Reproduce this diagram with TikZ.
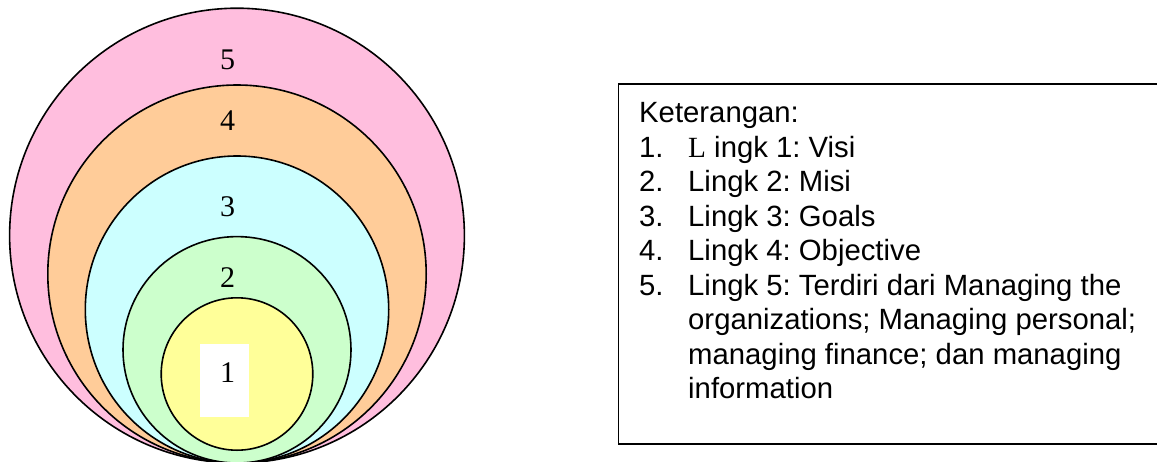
\documentclass[tikz,border=0pt]{standalone}
\usepackage{fontspec}
\setmainfont{Liberation Sans}
\newfontfamily\digitfont{Liberation Serif}
\frenchspacing
\definecolor{c5}{HTML}{FFBEDE}
\definecolor{c4}{HTML}{FFCC99}
\definecolor{c3}{HTML}{CCFFFF}
\definecolor{c2}{HTML}{CCFFCC}
\definecolor{c1}{HTML}{FFFF99}
\tikzset{
  ring/.style={draw=black, line width=1.6pt},
  numlabel/.style={font=\digitfont\fontsize{30}{34}\selectfont, inner sep=0pt},
  legtext/.style={font=\fontsize{29.3}{34}\selectfont, anchor=base west, inner sep=0pt},
}
\begin{document}
\begin{tikzpicture}[x=1pt,y=-1pt]
\useasboundingbox (0,0) rectangle (1157,461);
\clip (0,0) rectangle (1157,461);
\fill[white] (0,0) rectangle (1157,461);
% nested rings
\path[ring, fill=c5] (237,235.6) ellipse [x radius=227.4, y radius=227.4];
\path[ring, fill=c4] (237,274) ellipse [x radius=189.2, y radius=189];
\path[ring, fill=c3] (237,309.5) ellipse [x radius=151.7, y radius=153.5];
\path[ring, fill=c2] (237,349.8) ellipse [x radius=114, y radius=113.2];
\path[ring, fill=c1] (237,374) ellipse [x radius=75.8, y radius=76.2];
% labels
\node[fill=white, minimum width=49.3pt, minimum height=72.7pt, inner sep=0pt] (box1) at (224.7,380.3) {};
\node[numlabel] (l1) at (227.7,373) {1};
\node[numlabel] (l2) at (227.7,278) {2};
\node[numlabel] (l3) at (227.7,206.5) {3};
\node[numlabel] (l4) at (227.7,121) {4};
\node[numlabel] (l5) at (227.7,60) {5};
% legend box
\draw[line width=1.5pt] (1170,84) -- (618.3,84) -- (618.3,444) -- (1170,444);
\node[legtext] (k0) at (639,122.5) {Keterangan:};
\node[legtext] (n1) at (639,157) {1.};
\node[legtext] (t1) at (688,157) {{\digitfont L} ingk 1: Visi};
\node[legtext] (n2) at (639,191.5) {2.};
\node[legtext] (t2) at (688,191.5) {Lingk 2: Misi};
\node[legtext] (n3) at (639,226) {3.};
\node[legtext] (t3) at (688,226) {Lingk 3: Goals};
\node[legtext] (n4) at (639,260.5) {4.};
\node[legtext] (t4) at (688,260.5) {Lingk 4: Objective};
\node[legtext] (n5) at (639,295) {5.};
\node[legtext] (t5) at (688,295) {Lingk 5: Terdiri dari Managing the};
\node[legtext] (t6) at (688,329.5) {organizations; Managing personal;};
\node[legtext] (t7) at (688,364) {managing finance; dan managing};
\node[legtext] (t8) at (688,398.5) {information};
\end{tikzpicture}
\end{document}
